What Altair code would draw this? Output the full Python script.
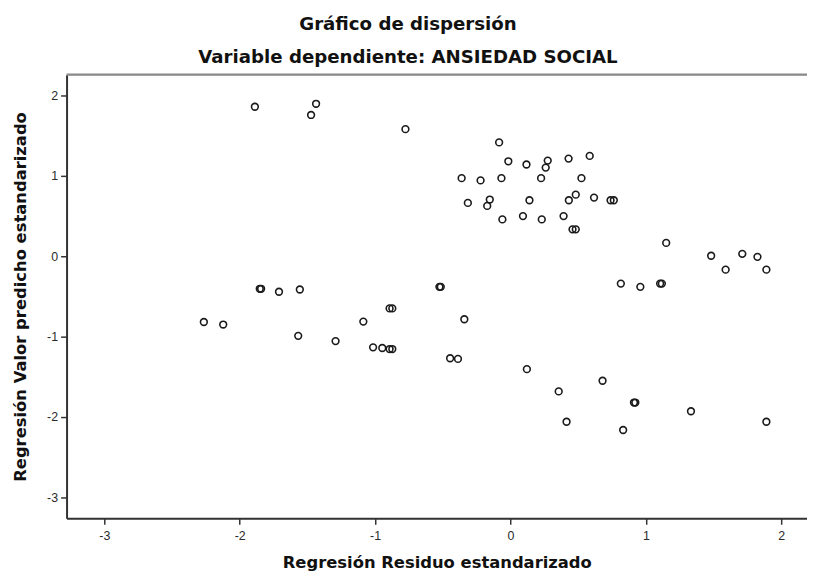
import altair as alt
import pandas as pd

# Regresión Residuo estandarizado (x) and Regresión Valor predicho estandarizado (y)
residuo = [
    -1.888, -1.436, -1.473, -0.776,
    -0.084, -0.016, 0.118, 0.275, 0.260, 0.429, 0.585,
    -0.361, -0.221, -0.067, 0.226, 0.524,
    -0.315, -0.153, -0.172, 0.140, 0.482, 0.431, 0.617, 0.739, 0.763,
    -0.060, 0.092, 0.231, 0.392, 0.458, 0.482,
    1.150, 1.482, 1.712, 1.824, 1.589, 1.890,
    0.815, 0.959, 1.105, 1.118, -0.525, -0.515,
    -0.341, -0.446, -0.388, 0.121, 0.356, 0.680, 0.912, 0.922,
    0.414, 0.832, 1.333, 1.890,
    -1.852, -1.842, -1.710, -1.556, -2.265, -2.122, -1.568,
    -1.292, -1.087, -0.893, -0.873, -1.015, -0.947, -0.893, -0.873,
]
predicho = [
    1.859, 1.896, 1.757, 1.580,
    1.415, 1.180, 1.140, 1.189, 1.102, 1.214, 1.247,
    0.970, 0.942, 0.970, 0.970, 0.970,
    0.662, 0.704, 0.625, 0.695, 0.765, 0.695, 0.728, 0.695, 0.695,
    0.457, 0.498, 0.457, 0.498, 0.333, 0.333,
    0.164, 0.004, 0.028, -0.009, -0.169, -0.169,
    -0.342, -0.383, -0.342, -0.342, -0.383, -0.383,
    -0.786, -1.272, -1.280, -1.407, -1.684, -1.552, -1.823, -1.823,
    -2.062, -2.165, -1.931, -2.062,
    -0.407, -0.407, -0.444, -0.416, -0.820, -0.852, -0.993,
    -1.058, -0.815, -0.651, -0.651, -1.136, -1.144, -1.157, -1.157,
]

x_ticks = [-3, -2, -1, 0, 1, 2]
y_ticks = [-3, -2, -1, 0, 1, 2]

df = pd.DataFrame({"x": residuo, "y": predicho})

W, H = 746, 447

points = alt.Chart(df).mark_point(
    shape="circle", filled=False, size=46, strokeWidth=1.6, color="#1a1a1a", opacity=1
).encode(
    x=alt.X("x:Q",
            scale=alt.Scale(domain=[-3.279, 2.19], nice=False, zero=False),
            axis=alt.Axis(values=x_ticks, title="Regresión Residuo estandarizado",
                          labelExpr="'' + datum.value",
                          grid=False, domainColor="#333", domainWidth=2,
                          tickColor="#333", tickWidth=1.5, tickSize=6,
                          labelFont="Liberation Sans", labelFontSize=12.5,
                          labelColor="#2a2a2a", labelPadding=5,
                          titleFont="DejaVu Sans", titleFontSize=16.5,
                          titleFontWeight="bold", titleColor="#111",
                          titleBaseline="alphabetic", titleY=50)),
    y=alt.Y("y:Q",
            scale=alt.Scale(domain=[-3.264, 2.259], nice=False, zero=False),
            axis=alt.Axis(values=y_ticks, title="Regresión Valor predicho estandarizado",
                          labelExpr="'' + datum.value",
                          grid=False, domainColor="#333", domainWidth=2,
                          tickColor="#333", tickWidth=1.5, tickSize=6,
                          labelFont="Liberation Sans", labelFontSize=12.5,
                          labelColor="#2a2a2a", labelPadding=3,
                          titleFont="DejaVu Sans", titleFontSize=16.5,
                          titleFontWeight="bold", titleColor="#111",
                          titlePadding=18)),
)

topline = alt.Chart(pd.DataFrame({"a": [0]})).mark_rule(
    color="#8a8a8a", strokeWidth=2.2
).encode(x=alt.value(0), x2=alt.value(W), y=alt.value(0))

chart = alt.layer(points, topline).properties(
    width=W, height=H,
    autosize=alt.AutoSizeParams(type="none"),
    padding={"left": 59, "top": 65, "right": 0, "bottom": 56},
    title=alt.TitleParams(
        text=["Gráfico de dispersión", "Variable dependiente: ANSIEDAD SOCIAL"],
        font="DejaVu Sans", fontSize=18.3, fontWeight="bold", color="#111",
        anchor="middle", dx=-29, lineHeight=34, offset=6,
    ),
).configure_view(stroke=None).configure(background="white")

chart.save("out.html", embed_options={"renderer": "svg", "actions": False})
